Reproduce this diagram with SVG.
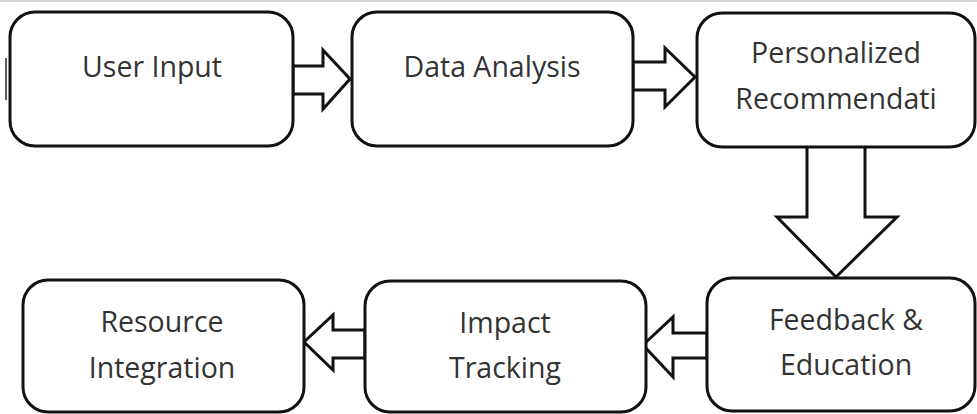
<svg xmlns="http://www.w3.org/2000/svg" width="977" height="414" viewBox="0 0 977 414">
<style>
.box{fill:#fff;stroke:#111;stroke-width:3}
.arr{fill:#fff;stroke:#111;stroke-width:3;stroke-linejoin:miter}
.t{font-family:"Open Sans","Noto Sans",sans-serif;font-size:28.5px;fill:#333;text-anchor:middle}
</style>
<rect x="0" y="0" width="977" height="414" fill="#fff"/>
<rect x="0" y="0" width="977" height="2" fill="#d4d4d4"/>
<line x1="6" y1="58" x2="6" y2="100" stroke="#222" stroke-width="1.5"/>
<g id="connectors">
<path class="arr" d="M293,66 L323,66 L323,50 L350,79 L323,109 L323,94 L293,94 Z"/>
<path class="arr" d="M633,62 L665,62 L665,48 L695,77 L665,107 L665,90 L633,90 Z"/>
<path class="arr" d="M807,147 L807,217 L777,217 L836,277 L897,217 L865,217 L865,147"/>
<path class="arr" d="M707,333 L673,333 L673,317 L643,345 L673,377 L673,358 L707,358 Z"/>
<path class="arr" d="M365,330 L333,330 L333,315 L304,342 L333,370 L333,358 L365,358 Z"/>
</g>
<g id="user-input">
<rect class="box" x="10" y="12" width="283" height="134" rx="25"/>
<text class="t" x="152" y="77">User Input</text>
</g>
<g id="data-analysis">
<rect class="box" x="352" y="12" width="281" height="134" rx="25"/>
<text class="t" x="492" y="77">Data Analysis</text>
</g>
<g id="personalized">
<rect class="box" x="697" y="13" width="278" height="134" rx="25"/>
<text class="t" x="836" y="63">Personalized</text>
<text class="t" x="836" y="109">Recommendati</text>
</g>
<g id="feedback">
<rect class="box" x="707" y="278" width="268" height="133" rx="25"/>
<text class="t" x="846" y="330">Feedback &amp;</text>
<text class="t" x="846" y="375">Education</text>
</g>
<g id="impact">
<rect class="box" x="365" y="281" width="281" height="131" rx="25"/>
<text class="t" x="505" y="333">Impact</text>
<text class="t" x="505" y="378">Tracking</text>
</g>
<g id="resource">
<rect class="box" x="23" y="280" width="281" height="132" rx="25"/>
<text class="t" x="162" y="332">Resource</text>
<text class="t" x="162" y="378">Integration</text>
</g>
</svg>
